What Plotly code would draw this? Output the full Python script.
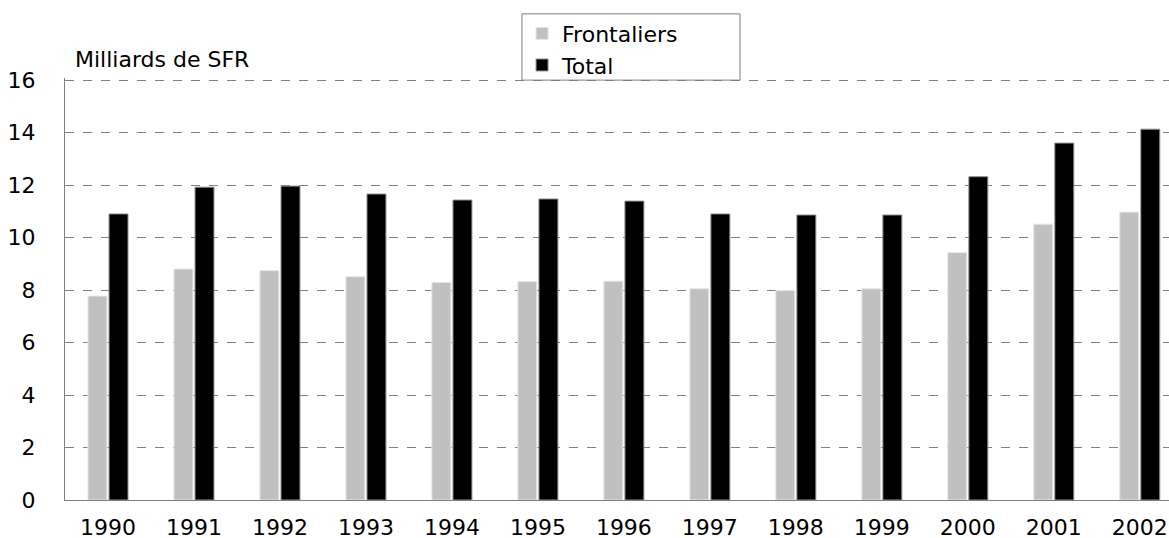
import plotly.graph_objects as go

# annees et valeurs (milliards de SFR)
annees = ["1990", "1991", "1992", "1993", "1994", "1995", "1996",
          "1997", "1998", "1999", "2000", "2001", "2002"]
frontaliers = [7.77, 8.8, 8.74, 8.51, 8.29, 8.33, 8.34,
               8.05, 7.98, 8.05, 9.43, 10.51, 10.97]
total = [10.9, 11.92, 11.96, 11.66, 11.43, 11.47, 11.39,
         10.9, 10.86, 10.86, 12.32, 13.6, 14.13]
y_ticks = [0, 2, 4, 6, 8, 10, 12, 14, 16]

police = "DejaVu Sans, Arial, sans-serif"

fig = go.Figure()

fig.add_trace(go.Bar(
    x=annees, y=frontaliers, name="Frontaliers", legendgroup="f",
    marker=dict(color="#c0c0c0", line=dict(color="#e6e6e6", width=1)),
))
fig.add_trace(go.Bar(
    x=annees, y=total, name="Total", legendgroup="t",
    marker=dict(color="#000000", line=dict(color="#909090", width=1)),
))

fig.update_layout(
    width=1169, height=538,
    margin=dict(l=65, r=0, t=78, b=38),
    barmode="group", bargap=0.51, bargroupgap=0.1,
    plot_bgcolor="white", paper_bgcolor="white",
    font=dict(family=police, size=22, color="#000000"),
    showlegend=True,
    legend=dict(
        x=0.414, y=1.155, xanchor="left", yanchor="top",
        borderwidth=0, bgcolor="rgba(0,0,0,0)",
        font=dict(size=22), tracegroupgap=0, itemwidth=30,
    ),
)

# cadre de la legende
fig.add_shape(
    type="rect", xref="paper", yref="paper",
    x0=0.4139, x1=0.6114, y0=0.995, y1=1.152,
    line=dict(color="#808080", width=1), fillcolor="white", layer="below",
)

fig.update_xaxes(
    type="category", range=[-0.5, 12.34], automargin=False,
    showline=True, linecolor="#808080", linewidth=1,
    showgrid=False, ticks="", ticklabelstandoff=8,
    tickfont=dict(size=22),
)
fig.update_yaxes(
    range=[0, 16.08], tickvals=y_ticks, automargin=False,
    showline=True, linecolor="#808080", linewidth=1,
    showgrid=True, gridcolor="#808080", griddash="dash", gridwidth=1,
    zeroline=False, ticks="", ticklabelstandoff=24,
    tickfont=dict(size=22),
)

fig.add_annotation(
    text="Milliards de SFR", xref="paper", yref="paper",
    x=0.007, y=1.043, xanchor="left", yanchor="middle",
    showarrow=False, font=dict(size=22),
)

# pas de marge de page autour de la figure, pas de barre d'outils
fig.write_html("out.html", config={"displayModeBar": False},
               post_script="document.body.style.margin='0';")
